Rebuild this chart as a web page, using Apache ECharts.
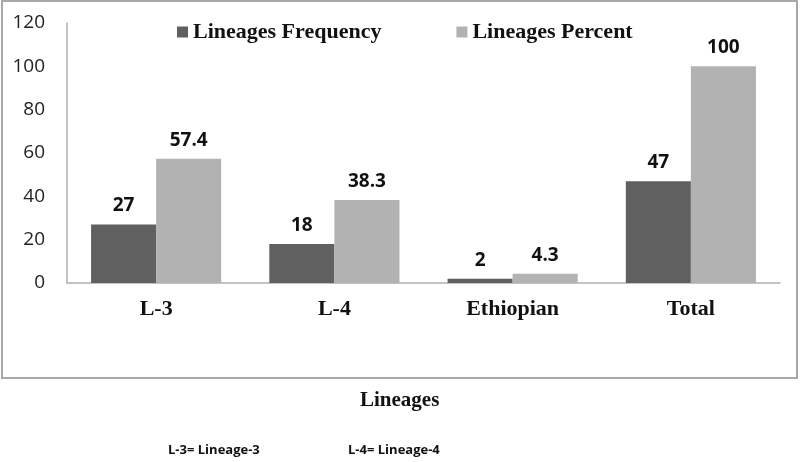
<!DOCTYPE html>
<html><head><meta charset="utf-8">
<script src="https://cdn.jsdelivr.net/npm/echarts@6/dist/echarts.min.js"></script>
<style>html,body{margin:0;padding:0;background:#fff}#c{width:800px;height:462px}</style>
</head><body><div id="c"></div>
<script>
const categories = ['L-3', 'L-4', 'Ethiopian', 'Total'];
const frequency = [27, 18, 2, 47];
const percent = [57.4, 38.3, 4.3, 100];
const seriesNames = ['Lineages Frequency', 'Lineages Percent'];
const xAxisTitle = 'Lineages';
const footnotes = ['L-3= Lineage-3', 'L-4= Lineage-4'];

const chart = echarts.init(document.getElementById('c'));
const labelStyle = {show: true, position: 'top', distance: 9, fontFamily: 'Open Sans', fontWeight: 'bold', fontSize: 19, color: '#111'};
chart.setOption({
  animation: false,
  backgroundColor: '#fff',
  graphic: [
    {type: 'rect', shape: {x: 2, y: 1, width: 795, height: 377}, style: {fill: 'none', stroke: '#a8a8a8', lineWidth: 2}, z: -1},
    {type: 'text', left: 360, top: 390, style: {text: xAxisTitle, font: 'bold 21px "Liberation Serif"', fill: '#111'}},
    {type: 'text', left: 168, top: 444, style: {text: footnotes[0], font: 'bold 13px "Open Sans"', fill: '#111'}},
    {type: 'text', left: 348, top: 444, style: {text: footnotes[1], font: 'bold 13px "Open Sans"', fill: '#111'}}
  ],
  legend: {
    data: seriesNames, left: 172, top: 16, itemWidth: 11, itemHeight: 11, itemGap: 75,
    icon: 'rect',
    textStyle: {fontFamily: 'Liberation Serif', fontWeight: 'bold', fontSize: 22, color: '#111'}
  },
  grid: {left: 67, right: 20, top: 23, bottom: 179},
  xAxis: {
    type: 'category', data: categories,
    axisLine: {lineStyle: {color: '#b0b0b0', width: 1.5}},
    axisTick: {show: false},
    axisLabel: {margin: 15, fontFamily: 'Liberation Serif', fontWeight: 'bold', fontSize: 22, color: '#111'}
  },
  yAxis: {
    type: 'value', min: 0, max: 120, interval: 20,
    axisLine: {show: true, lineStyle: {color: '#b0b0b0', width: 1.5}},
    axisTick: {show: false},
    splitLine: {show: false},
    axisLabel: {margin: 22, fontFamily: 'Open Sans', fontSize: 19, color: '#222'}
  },
  series: [
    {name: seriesNames[0], type: 'bar', data: frequency, barGap: '0%', barCategoryGap: '27%', itemStyle: {color: '#606060'}, label: labelStyle},
    {name: seriesNames[1], type: 'bar', data: percent, itemStyle: {color: '#b2b2b2'}, label: labelStyle}
  ]
});
</script></body></html>
